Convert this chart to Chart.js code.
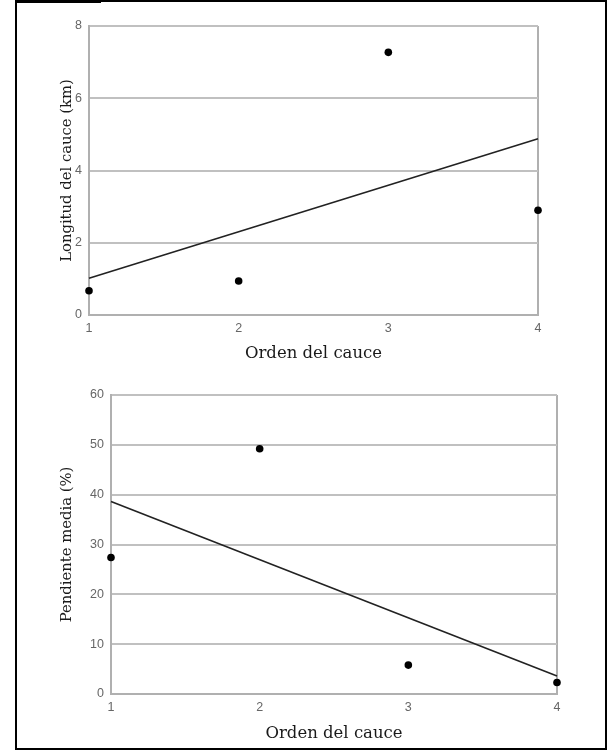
<!DOCTYPE html>
<html>
<head>
<meta charset="utf-8">
<script src="https://cdn.jsdelivr.net/npm/chart.js@4"></script>
<style>
  html, body { margin: 0; padding: 0; background: #fff; }
  body { width: 607px; height: 750px; position: relative; overflow: hidden; }
  #frame { position: absolute; left: 15px; top: 0; width: 592px; height: 750px; box-sizing: border-box; border: 2px solid #000; }
  #tab { position: absolute; left: 15px; top: 0; width: 86px; height: 3px; background: #000; }
  .c { position: absolute; left: 0; width: 607px; height: 375px; }
  #c1 { top: 0; }
  #c2 { top: 375px; }
</style>
</head>
<body>
<div id="frame"></div>
<div id="tab"></div>
<canvas id="c1" class="c" width="607" height="375"></canvas>
<canvas id="c2" class="c" width="607" height="375"></canvas>
<script>
// ---- data ----
const ordenes = [1, 2, 3, 4];
const xTicks = [1, 2, 3, 4];
const longitud = [0.67, 0.94, 7.27, 2.9];
const longitudTrendX = [1, 4];
const longitudTrend = [1.02, 4.88];
const longitudTicks = [0, 2, 4, 6, 8];
const pendiente = [27.4, 49.2, 5.8, 2.3];
const pendienteTrendX = [1, 4];
const pendienteTrend = [38.65, 3.6];
const pendienteTicks = [0, 10, 20, 30, 40, 50, 60];
const xTitle = 'Orden del cauce';
const y1Title = 'Longitud del cauce (km)';
const y2Title = 'Pendiente media (%)';

const GRID = '#c0c0c0';
const TICK_COLOR = '#666';
const X_TITLE_FONT = { family: "'DejaVu Serif', serif", size: 16.5 };
const Y_TITLE_FONT = { family: "'DejaVu Serif', serif", size: 14.8 };
const TICK_FONT = { family: "'Liberation Sans', Arial, sans-serif", size: 12.5 };

function pts(xs, ys) { return xs.map((x, i) => ({ x: x, y: ys[i] })); }

function makeChart(id, cfg) {
  return new Chart(document.getElementById(id), {
    type: 'scatter',
    data: {
      datasets: [
        {
          type: 'line',
          data: pts(cfg.trendX, cfg.trend),
          borderColor: '#222',
          borderWidth: 1.6,
          pointRadius: 0,
          fill: false,
          clip: false,
          order: 2
        },
        {
          type: 'scatter',
          data: pts(ordenes, cfg.values),
          backgroundColor: '#000',
          borderColor: '#000',
          pointRadius: 3.8,
          borderWidth: 0,
          clip: false,
          order: 1
        }
      ]
    },
    options: {
      responsive: false,
      animation: false,
      devicePixelRatio: 1,
      layout: { padding: cfg.padding },
      plugins: { legend: { display: false }, tooltip: { enabled: false } },
      scales: {
        x: {
          type: 'linear',
          min: 1, max: 4,
          afterFit: s => { s.height = cfg.xHeight; },
          afterBuildTicks: s => { s.ticks = xTicks.map(v => ({ value: v })); },
          ticks: { color: TICK_COLOR, font: TICK_FONT, padding: 6, autoSkip: false, maxRotation: 0 },
          grid: {
            drawTicks: false,
            lineWidth: 2,
            color: c => (c.tick && c.tick.value === 4) ? '#b0b0b0' : 'rgba(0,0,0,0)'
          },
          border: { display: true, color: '#b0b0b0', width: 2 },
          title: { display: true, text: xTitle, color: '#1a1a1a', font: X_TITLE_FONT, padding: { top: 0, bottom: cfg.xTitlePad } }
        },
        y: {
          type: 'linear',
          min: cfg.yTicks[0], max: cfg.yTicks[cfg.yTicks.length - 1],
          afterFit: s => { s.width = cfg.yWidth; },
          afterBuildTicks: s => { s.ticks = cfg.yTicks.map(v => ({ value: v })); },
          ticks: { color: TICK_COLOR, font: TICK_FONT, padding: 7 },
          grid: { drawTicks: false, lineWidth: 2, color: GRID },
          border: { display: true, color: '#b0b0b0', width: 2 },
          title: { display: true, text: cfg.yTitle, color: '#1a1a1a', font: Y_TITLE_FONT, padding: { top: cfg.yTitlePad, bottom: 0 } }
        }
      }
    }
  });
}

makeChart('c1', {
  values: longitud, trendX: longitudTrendX, trend: longitudTrend,
  yTicks: longitudTicks, yTitle: y1Title,
  padding: { left: 40, right: 69, top: 26, bottom: 0 },
  yWidth: 49, xHeight: 60, xTitlePad: 11, yTitlePad: 18
});

makeChart('c2', {
  values: pendiente, trendX: pendienteTrendX, trend: pendienteTrend,
  yTicks: pendienteTicks, yTitle: y2Title,
  padding: { left: 40, right: 50, top: 20, bottom: 0 },
  yWidth: 71, xHeight: 56, xTitlePad: 6, yTitlePad: 18
});
</script>
</body>
</html>
